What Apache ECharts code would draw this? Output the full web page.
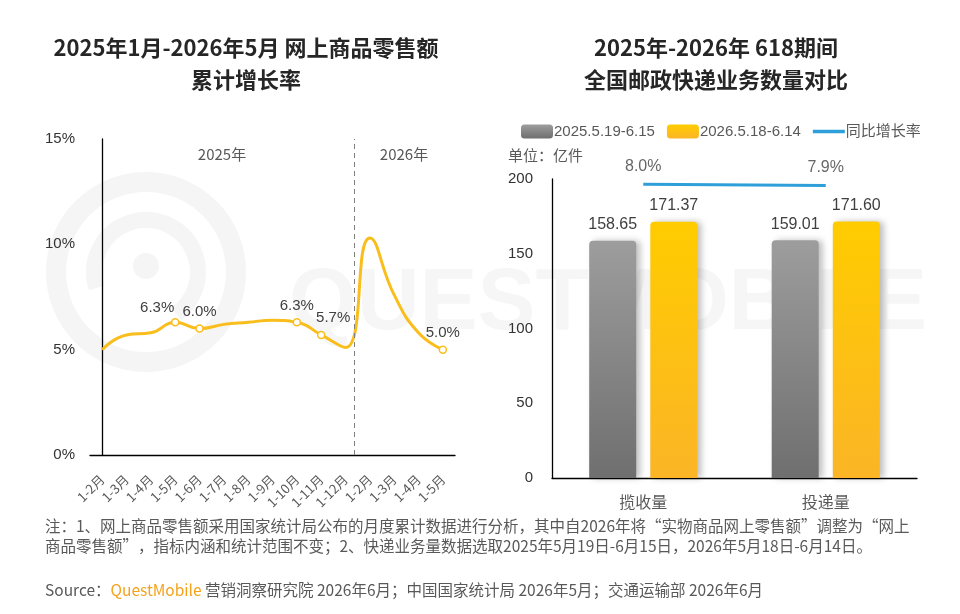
<!DOCTYPE html>
<html>
<head>
<meta charset="utf-8">
<script src="https://cdn.jsdelivr.net/npm/echarts@6/dist/echarts.min.js"></script>
<style>
html,body{margin:0;padding:0;background:#fff;}
#c{width:960px;height:614px;}
</style>
</head>
<body>
<div id="c"></div>
<script>
// ---- Left chart data ----
const months = ['1-2月','1-3月','1-4月','1-5月','1-6月','1-7月','1-8月','1-9月','1-10月','1-11月','1-12月','1-2月','1-3月','1-4月','1-5月'];
const growth = [5.0, 5.7, 5.8, 6.3, 6.0, 6.2, 6.3, 6.4, 6.3, 5.7, 5.1, 10.3, 7.6, 5.8, 5.0];
const labeledIdx = [3, 4, 8, 9, 14];
const leftYTicks = [0, 5, 10, 15];
const yearLabels = ['2025年', '2026年'];
const dividerPos = [10.35];

// ---- Right chart data ----
const kinds = ['揽收量', '投递量'];
const vol2025 = [158.65, 159.01];
const vol2026 = [171.37, 171.60];
const yoy = [8.0, 7.9];
const seriesNames = ['2025.5.19-6.15', '2026.5.18-6.14', '同比增长率'];
const rightYTicks = [0, 50, 100, 150, 200];

const labelOffsets = {3: [-18, 2], 4: [0, 0], 8: [0, 0], 9: [12, 0], 14: [0, 0]};

const LINE_C = '#F9BD1C';
const BLUE = '#2E9FD8';
const TXT = '#404040';
const SUB = '#595959';
const NUMF = 'Liberation Sans, Arial, Noto Sans CJK SC, sans-serif';
const CJKF = 'Noto Sans CJK SC, sans-serif';

const growthData = growth.map((v, i) => {
  const on = labeledIdx.indexOf(i) >= 0;
  return {
    value: v,
    symbol: on ? 'circle' : 'none',
    symbolSize: 7,
    label: {
      show: on,
      position: 'top',
      distance: 5,
      offset: on ? labelOffsets[i] : [0, 0],
      formatter: (p) => p.value.toFixed(1) + '%',
      color: TXT,
      fontSize: 15,
      fontFamily: NUMF
    }
  };
});

const chart = echarts.init(document.getElementById('c'), null, {renderer: 'canvas'});

const gray = new echarts.graphic.LinearGradient(0, 0, 0, 1, [
  {offset: 0, color: '#9D9D9D'}, {offset: 1, color: '#6F6F6F'}]);
const yellow = new echarts.graphic.LinearGradient(0, 0, 0, 1, [
  {offset: 0, color: '#FFCC00'}, {offset: 1, color: '#FBB526'}]);

const titleFont = 'bold 22px Noto Sans CJK SC, sans-serif';

const option = {
  backgroundColor: '#fff',
  animation: false,
  textStyle: {fontFamily: CJKF},
  graphic: [
    // watermark
    {type: 'circle', z: -10, silent: true, shape: {cx: 146, cy: 272, r: 90},
      style: {fill: 'none', stroke: '#f5f5f5', lineWidth: 20}},
    {type: 'arc', z: -10, silent: true, shape: {cx: 146, cy: 272, r: 52, startAngle: Math.PI * 0.9, endAngle: Math.PI * 2.3},
      style: {fill: 'none', stroke: '#f5f5f5', lineWidth: 16}},
    {type: 'circle', z: -10, silent: true, shape: {cx: 146, cy: 266, r: 13},
      style: {fill: '#f5f5f5'}},
    {type: 'text', z: -10, silent: true, left: 289, top: 262,
      style: {text: 'QUESTMOBILE', font: 'bold 87px Liberation Sans, Arial, sans-serif', fill: '#f6f6f6'}},
    // titles
    {type: 'text', x: 246, y: 48,
      style: {text: '2025年1月-2026年5月 网上商品零售额', font: titleFont, fill: '#262626', align: 'center', verticalAlign: 'middle'}},
    {type: 'text', x: 246, y: 80,
      style: {text: '累计增长率', font: titleFont, fill: '#262626', align: 'center', verticalAlign: 'middle'}},
    {type: 'text', x: 716, y: 48,
      style: {text: '2025年-2026年 618期间', font: titleFont, fill: '#262626', align: 'center', verticalAlign: 'middle'}},
    {type: 'text', x: 716, y: 80,
      style: {text: '全国邮政快递业务数量对比', font: titleFont, fill: '#262626', align: 'center', verticalAlign: 'middle'}},
    // year labels
    {type: 'text', x: 222, y: 154,
      style: {text: yearLabels[0], font: '15px Noto Sans CJK SC, sans-serif', fill: SUB, align: 'center', verticalAlign: 'middle'}},
    {type: 'text', x: 404, y: 154,
      style: {text: yearLabels[1], font: '15px Noto Sans CJK SC, sans-serif', fill: SUB, align: 'center', verticalAlign: 'middle'}},
    // unit
    {type: 'text', x: 508, y: 155,
      style: {text: '单位：亿件', font: '15px Noto Sans CJK SC, sans-serif', fill: SUB, align: 'left', verticalAlign: 'middle'}},
    // notes
    {type: 'text', x: 45, y: 536,
      style: {text: '注：1、网上商品零售额采用国家统计局公布的月度累计数据进行分析，其中自2026年将“实物商品网上零售额”调整为“网上\n商品零售额”，指标内涵和统计范围不变；2、快递业务量数据选取2025年5月19日-6月15日，2026年5月18日-6月14日。',
        font: '15.5px Noto Sans CJK SC, sans-serif', fill: SUB, align: 'left', verticalAlign: 'middle', lineHeight: 20}},
    {type: 'text', x: 45, y: 590,
      style: {
        text: '{a|Source：}{b|QuestMobile}{a| 营销洞察研究院 2026年6月；中国国家统计局 2026年5月；交通运输部 2026年6月}',
        verticalAlign: 'middle', align: 'left',
        rich: {
          a: {fontSize: 15.5, fontFamily: CJKF, fill: SUB, color: SUB},
          b: {fontSize: 15.5, fontFamily: CJKF, fill: '#F5A21B', color: '#F5A21B'}
        }
      }}
  ],
  legend: {
    top: 119, left: 516,
    itemWidth: 32, itemHeight: 14, itemGap: 12,
    symbolKeepAspect: true,
    textStyle: {color: SUB, fontSize: 15, fontFamily: NUMF, padding: [0, 0, 0, -4]},
    data: [
      {name: seriesNames[0], icon: 'roundRect'},
      {name: seriesNames[1], icon: 'roundRect'},
      {name: seriesNames[2], icon: 'path://M0,0H28V3H0Z'}
    ]
  },
  grid: [
    {left: 90, right: 505, top: 139, bottom: 159},
    {left: 552, right: 43, top: 179, bottom: 136}
  ],
  xAxis: [
    {type: 'category', gridIndex: 0, data: months, boundaryGap: true,
      axisLine: {lineStyle: {color: '#000', width: 1.3}},
      axisTick: {show: false},
      axisLabel: {rotate: 45, interval: 0, color: SUB, fontSize: 13, margin: 22, fontFamily: CJKF}},
    {type: 'value', gridIndex: 0, min: -0.5, max: months.length - 0.5, show: false},
    {type: 'category', gridIndex: 1, data: kinds,
      axisLine: {lineStyle: {color: '#000', width: 1.3}},
      axisTick: {show: false},
      axisLabel: {color: SUB, fontSize: 16, margin: 16, fontFamily: CJKF}}
  ],
  yAxis: [
    {type: 'value', gridIndex: 0, min: leftYTicks[0], max: leftYTicks[leftYTicks.length - 1], interval: 5,
      axisLine: {show: true, lineStyle: {color: '#000', width: 1.3}},
      axisTick: {show: false}, splitLine: {show: false},
      axisLabel: {formatter: '{value}%', color: '#333', fontSize: 15, margin: 15, fontFamily: NUMF}},
    {type: 'value', gridIndex: 1, min: rightYTicks[0], max: rightYTicks[rightYTicks.length - 1], interval: 50,
      axisLine: {show: true, lineStyle: {color: '#000', width: 1.3}},
      axisTick: {show: false}, splitLine: {show: false},
      axisLabel: {color: '#333', fontSize: 15, margin: 19, fontFamily: NUMF}},
    {type: 'value', gridIndex: 1, min: -19.5, max: 8.5, show: false}
  ],
  series: [
    {type: 'line', name: 'growth', xAxisIndex: 0, yAxisIndex: 0, data: growthData,
      smooth: 0.5, lineStyle: {color: LINE_C, width: 3},
      itemStyle: {color: '#fff', borderColor: LINE_C, borderWidth: 1.5},
      z: 3},
    {type: 'scatter', name: 'divider', xAxisIndex: 1, yAxisIndex: 0, data: [], symbolSize: 0,
      markLine: {silent: true, symbol: ['none', 'none'], label: {show: false},
        lineStyle: {color: '#808080', type: [5, 4], width: 1},
        data: dividerPos.map(v => ({xAxis: v}))}},
    {type: 'bar', name: seriesNames[0], xAxisIndex: 2, yAxisIndex: 1, data: vol2025,
      barWidth: 47, barGap: '30%',
      itemStyle: {color: gray, borderRadius: [4, 4, 0, 0], shadowColor: 'rgba(0,0,0,0.25)', shadowBlur: 6, shadowOffsetX: 4, shadowOffsetY: 0},
      label: {show: true, position: 'top', distance: 8, color: TXT, fontSize: 16, fontFamily: NUMF,
        formatter: (p) => p.value.toFixed(2)}},
    {type: 'bar', name: seriesNames[1], xAxisIndex: 2, yAxisIndex: 1, data: vol2026,
      barWidth: 47, barGap: '30%',
      itemStyle: {color: yellow, borderRadius: [4, 4, 0, 0], shadowColor: 'rgba(0,0,0,0.25)', shadowBlur: 6, shadowOffsetX: 4, shadowOffsetY: 0},
      label: {show: true, position: 'top', distance: 8, color: TXT, fontSize: 16, fontFamily: NUMF,
        formatter: (p) => p.value.toFixed(2)}},
    {type: 'line', name: seriesNames[2], xAxisIndex: 2, yAxisIndex: 2, data: yoy,
      symbol: 'none', lineStyle: {color: BLUE, width: 3}, itemStyle: {color: BLUE},
      z: 5},
    {type: 'scatter', name: 'yoyLabels', xAxisIndex: 2, yAxisIndex: 2, data: yoy,
      symbolSize: 0, silent: true,
      label: {show: true, position: 'top', distance: 10, color: TXT, fontSize: 16, fontFamily: NUMF,
        formatter: (p) => p.value.toFixed(1) + '%'},
      z: 6}
  ]
};
chart.setOption(option);
</script>
</body>
</html>
